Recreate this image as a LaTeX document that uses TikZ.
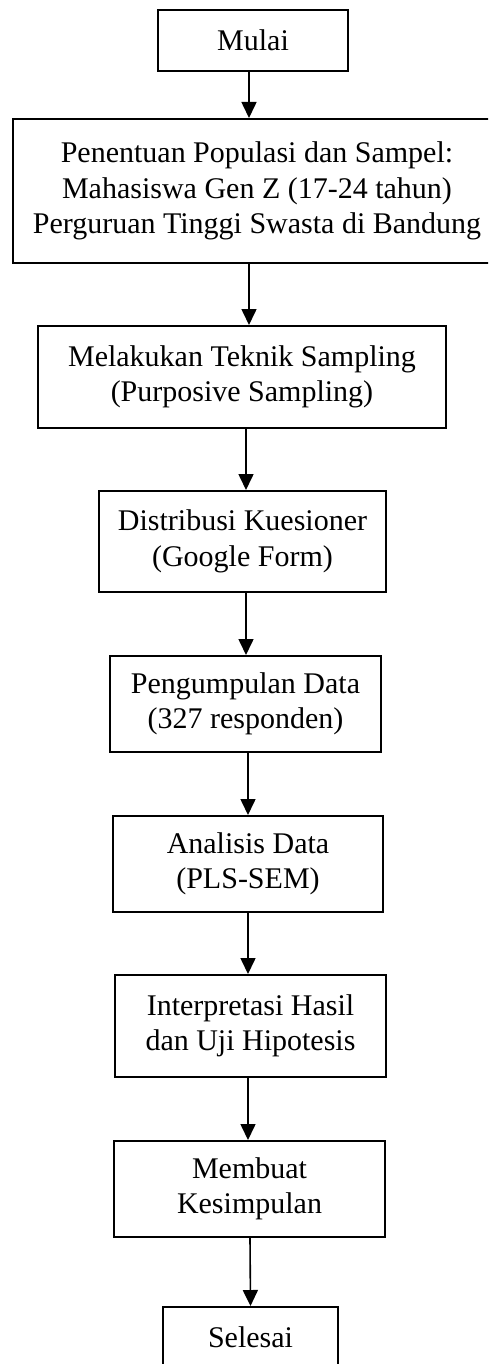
\documentclass[tikz,border=0pt]{standalone}
\usepackage{fontspec}
\setmainfont{Liberation Serif}
\usetikzlibrary{arrows.meta}
\begin{document}
\begin{tikzpicture}[x=1pt,y=-1pt,
  box/.style={draw,line width=2pt,align=center,inner sep=0pt,
    font=\fontsize{30}{35.5}\selectfont},
  arr/.style={line width=1.6pt,-{Triangle[length=16pt,width=15pt]}}]
\useasboundingbox (0,0) rectangle (488,1364);
\clip (0,0) rectangle (488,1364);
\node[box,minimum width=190pt,minimum height=61pt] (m) at (253,40.5) {Mulai};
\node[box,minimum width=488pt,minimum height=144pt] (b2) at (257,191) {Penentuan Populasi dan Sampel:\\Mahasiswa Gen Z (17-24 tahun)\\Perguruan Tinggi Swasta di Bandung};
\node[box,minimum width=408pt,minimum height=102pt] (b3) at (242,377) {Melakukan Teknik Sampling\\(Purposive Sampling)};
\node[box,minimum width=287pt,minimum height=101pt] (b4) at (242.5,541.5) {Distribusi Kuesioner\\(Google Form)};
\node[box,minimum width=271pt,minimum height=96pt] (b5) at (245.5,704) {Pengumpulan Data\\(327 responden)};
\node[box,minimum width=270pt,minimum height=96pt] (b6) at (248,864) {Analisis Data\\(PLS-SEM)};
\node[box,minimum width=271pt,minimum height=102pt] (b7) at (250.5,1026) {Interpretasi Hasil\\dan Uji Hipotesis};
\node[box,minimum width=271pt,minimum height=96pt] (b8) at (249.5,1189) {Membuat\\Kesimpulan};
\node[box,minimum width=175pt,minimum height=61pt] (s) at (250.5,1337.5) {Selesai};
\draw[arr] ([xshift=-4pt]m.south) -- ([xshift=-8pt]b2.north);
\draw[arr] ([xshift=-8pt]b2.south) -- ([xshift=7pt]b3.north);
\draw[arr] ([xshift=4pt]b3.south) -- ([xshift=3.5pt]b4.north);
\draw[arr] ([xshift=3.5pt]b4.south) -- ([xshift=0.5pt]b5.north);
\draw[arr] ([xshift=2.5pt]b5.south) -- (b6.north);
\draw[arr] (b6.south) -- ([xshift=-2.5pt]b7.north);
\draw[arr] ([xshift=-2.5pt]b7.south) -- ([xshift=-1.5pt]b8.north);
\draw[arr] ([xshift=0.5pt]b8.south) -- (s.north);
\end{tikzpicture}
\end{document}
